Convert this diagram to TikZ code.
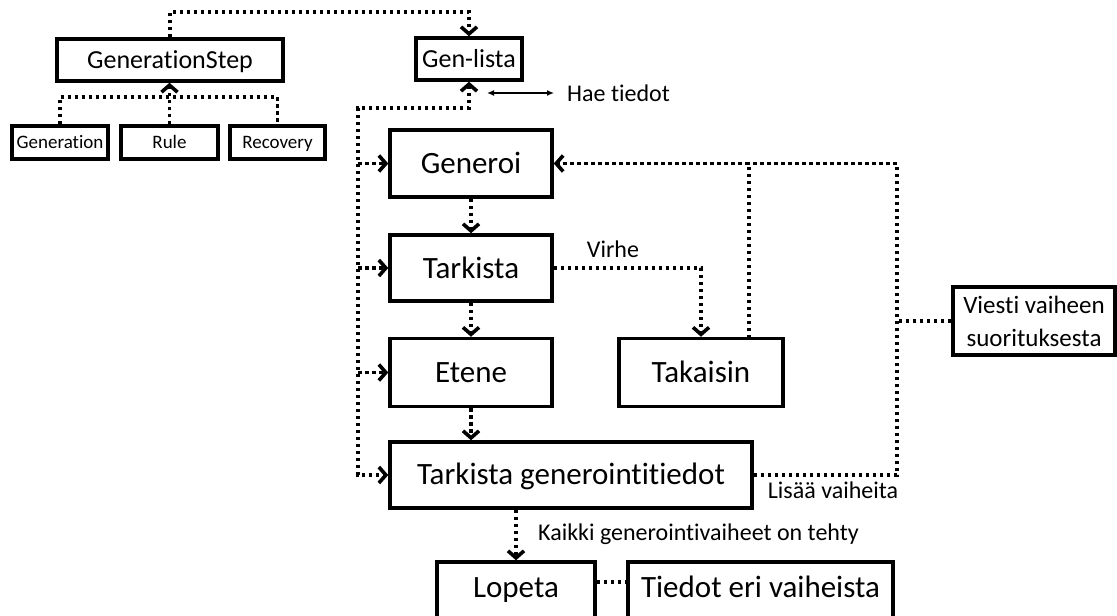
\documentclass[tikz,border=0pt]{standalone}
\usepackage{fontspec}
\setmainfont{Carlito}[RawFeature={-liga;-clig;-dlig}]
\usetikzlibrary{arrows.meta,calc}
\tikzset{
  box/.style={draw=black,line width=3.5pt,fill=white,inner sep=0pt,align=center},
  bigbox/.style={box,font=\fontsize{31}{36}\selectfont,text height=22pt,text depth=2pt},
  midbox/.style={box,font=\fontsize{26}{33}\selectfont,text height=18.5pt,text depth=1.7pt},
  twoline/.style={box,font=\fontsize{25}{33}\selectfont},
  smallbox/.style={box,line width=3.2pt,font=\fontsize{19}{23}\selectfont,text height=13.5pt,text depth=1.3pt},
  lbl/.style={inner sep=0pt,font=\fontsize{24}{28}\selectfont},
  tipb/.tip={Straight Barb[length=7pt,width=16pt,line width=3.6pt]},
  dotline/.style={line width=3.5pt,dash pattern=on 3.5pt off 3.5pt,-tipb},
  dotplain/.style={line width=3.5pt,dash pattern=on 3.5pt off 3.5pt},
  thinarrow/.style={line width=1.3pt,{Latex[length=7pt,width=6pt]}-{Latex[length=7pt,width=6pt]}}
}
\begin{document}
\begin{tikzpicture}[x=1pt,y=-1pt]
\clip (0,0) rectangle (1117,616);
\fill[white] (0,0) rectangle (1117,616);
% nodes
\node[midbox,minimum width=226pt,minimum height=42pt] (gs) at (170,60) {GenerationStep};
\node[midbox,minimum width=106pt,minimum height=42pt] (gl) at (469,59) {Gen-lista};
\node[smallbox,minimum width=96pt,minimum height=33pt] (gen) at (60,142.5) {Generation};
\node[smallbox,minimum width=97pt,minimum height=33pt] (rule) at (169.5,142.5) {Rule};
\node[smallbox,minimum width=95pt,minimum height=33pt] (rec) at (277.5,142.5) {Recovery};
\node[bigbox,minimum width=162pt,minimum height=67pt] (generoi) at (471,163.5) {Generoi};
\node[bigbox,minimum width=162pt,minimum height=66pt] (tark) at (471,268) {Tarkista};
\node[bigbox,minimum width=162pt,minimum height=68pt] (etene) at (471,372.5) {Etene};
\node[bigbox,minimum width=164pt,minimum height=68pt] (taka) at (701,372.5) {Takaisin};
\node[bigbox,minimum width=362pt,minimum height=66pt,text height=20pt] (tg) at (571,475) {Tarkista generointitiedot};
\node[bigbox,minimum width=158pt,minimum height=60pt,text depth=12pt] (lopeta) at (516,592) {Lopeta};
\node[bigbox,minimum width=265pt,minimum height=60pt,text depth=12pt] (tiedot) at (760.5,592) {Tiedot eri vaiheista};
\node[twoline,minimum width=162pt,minimum height=68pt] (viesti) at (1034,321) {Viesti vaiheen\\suorituksesta};
% labels
\node[lbl,anchor=west] (hae) at (567,93) {Hae tiedot};
\node[lbl] (virhe) at (613,249) {Virhe};
\node[lbl] (lisaa) at (833,490) {Lisää vaiheita};
\node[lbl,anchor=west] (kaikki) at (538,534) {Kaikki generointivaiheet on tehty};
% coordinates
\coordinate (ytop) at (0,12);
\coordinate (ybus) at (0,97);
\coordinate (lbus) at (358,108);
\coordinate (rc) at (897,163.5);
\coordinate (back) at (749,338);
\coordinate (ha) at (487,93);
% connectors
\draw[dotline] (gs.north) -- (gs.north |- ytop) -| (gl.north);
\draw[dotplain] (gen.north) -- (gen.north |- ybus) -| (rec.north);
\draw[dotline] (rule.north) -- (rule.north |- gs.south);
\draw[dotline,tipb-tipb] (gl.south) |- (lbus) |- (tg.west);
\draw[dotline] (lbus |- generoi.west) -- (generoi.west);
\draw[dotline] (lbus |- tark.west) -- (tark.west);
\draw[dotline] (lbus |- etene.west) -- (etene.west);
\draw[dotline] (generoi) -- (tark);
\draw[dotline] (tark) -- (etene);
\draw[dotline] (etene.south) -- (etene.south |- tg.north);
\draw[dotline] (tark.east) -| (taka.north);
\draw[dotline] (back) |- (generoi.east);
\draw[dotplain] (tg.east) -| (rc) -- (rc -| back);
\draw[dotplain] (viesti.west) -- (viesti.west -| rc);
\draw[dotline] (tg.south -| lopeta.north) -- (lopeta.north);
\draw[dotplain] ([yshift=10pt]lopeta.east) -- ([yshift=10pt]tiedot.west);
\draw[thinarrow] (ha) -- ([xshift=-13pt]hae.west);
\end{tikzpicture}
\end{document}
